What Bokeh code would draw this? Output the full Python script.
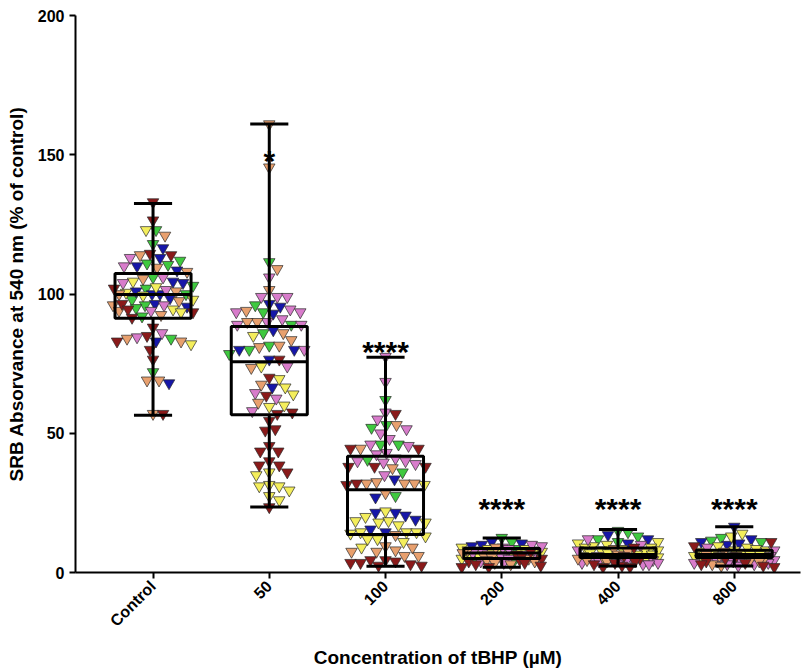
import math
from bokeh.plotting import figure
from bokeh.models import ColumnDataSource, FixedTicker
from bokeh.core.properties import value
from bokeh.embed import file_html
from bokeh.resources import INLINE

# ---------------- data ----------------
categories = ["Control", "50", "100", "200", "400", "800"]

box_min = [56.5, 23.5, 2.2, 1.9, 2.3, 2.3]
box_q1 = [91.3, 56.6, 13.6, 5.0, 5.4, 5.4]
box_med = [99.8, 75.7, 29.7, 7.0, 6.5, 6.5]
box_q3 = [107.4, 88.3, 41.7, 8.6, 8.8, 8.0]
box_max = [132.5, 161.0, 77.3, 12.4, 15.4, 16.4]

sig_text = ["", "*", "****", "****", "****", "****"]
sig_y = [0, 148.0, 79.5, 23.0, 23.0, 23.0]

green = [
    [123, 118, 112, 111, 110.5, 106, 103, 102, 100, 98, 96, 95, 92, 84, 72],
    [111.5, 96, 93.5, 89, 86, 80, 81.5, 78.5],
    [62, 53, 52, 46, 46, 40.5, 36, 27.5],
    [12.5, 11, 8.5, 5, 4.5, 6],
    [15, 14.5, 13, 12, 11],
    [12.5, 11.5, 11],
]
blue = [
    [116.5, 113, 110, 108.5, 104.5, 104, 101, 100, 100, 98.5, 96.5, 95.5, 83, 68],
    [96.5, 95.5, 93, 87, 80, 80, 76.5, 66.5],
    [33.5, 27, 21.5, 21.5, 20.5, 19, 15.5, 14.5],
    [11, 10.5, 10, 9.5],
    [13.5, 12, 10.5],
    [16.5, 12, 11, 10.5, 10],
]
yellow = [
    [123, 104.5, 102.5, 100.5, 99.5, 98, 94.5, 93.5, 82],
    [85, 74, 69.5, 66.5, 64, 60, 59.5, 36, 35, 31.5, 31, 31, 29.5, 27.5, 26],
    [31.5, 22, 20, 18.5, 18.5, 18, 18, 17, 14.5, 14.5, 14.5, 13, 14, 12, 12, 11, 9],
    [9, 8.5, 8.5, 8, 8, 7.5, 7.5, 7, 7, 6.5, 6.5, 6, 6, 5.5, 5],
    [11, 10.5, 10, 9.5, 9, 9, 8.5, 8, 8, 7.5, 7, 7, 6.5, 6.5, 6, 5.5, 5],
    [14, 13, 9.5, 9, 8.5, 8, 8, 7.5, 7, 7, 6.5, 6.5, 6, 6, 5.5, 5],
]
pink = [
    [113, 110, 106, 104, 101.5, 96, 94, 86, 84.5],
    [106, 99, 99, 99, 94.5, 93.5, 93.5, 91, 90, 89, 89, 80, 74, 64.5, 62.5, 58],
    [77.5, 68.5, 57.5, 55, 51.5, 50, 48, 46, 45.5, 43, 42.5, 41, 40, 40, 39.5, 39, 35],
    [10, 9.5, 9, 8.5, 7.5, 7, 6.5, 6, 5.5, 5, 4, 3.5],
    [12, 10, 8, 6, 5.5, 5, 5, 4.5, 4.5, 4, 4, 3.5, 3.5, 3, 3],
    [9, 8, 6, 5.5, 5, 4.5, 4.5, 4, 4, 3.5, 3.5, 3, 3, 2.5],
]
salmon = [
    [121, 114, 109.5, 108, 105.5, 101, 100, 97.5, 96, 94, 92.5, 84, 83, 69, 69, 57],
    [161, 145.5, 109, 101.5, 94, 90, 90, 86, 83.5, 81.5, 81, 73.5, 67.5, 61],
    [53, 44.5, 37.5, 32.5, 32, 32, 32, 28.5, 13.5, 9.5, 9, 8, 7.5, 7.5, 6, 6],
    [9, 8, 7, 6.5, 6, 5.5, 5, 4.5, 4, 3.5, 3],
    [8.5, 7.5, 6.5, 5.5, 5, 4.5, 4],
    [7.5, 6.5, 6, 5, 4.5, 4, 3, 2.5],
]
darkred = [
    [133, 126.5, 114.5, 114, 102, 96.5, 94.5, 93.5, 91.5, 88, 85, 83, 80, 76.5, 57],
    [76.5, 70, 63.5, 57.5, 57, 54.5, 51.5, 51, 45.5, 43.5, 43.5, 40, 38.5, 38.5, 36, 23.5],
    [57, 44.5, 44.5, 38, 38, 38, 32, 31.5, 3.5, 3.5, 4, 4.5, 4.5, 3, 2.5, 2.5],
    [7.5, 6.5, 6, 5, 4.5, 4, 3.5, 3, 2.5, 2, 2],
    [9, 6, 5, 4, 3.5, 3, 2.5, 2, 2],
    [11, 9.5, 6, 5, 4, 3.5, 3, 2.5, 2],
]

series = [
    (green, "#3fc93f"),
    (blue, "#1616a8"),
    (yellow, "#f4ee5c"),
    (pink, "#d87ccb"),
    (salmon, "#e8a06e"),
    (darkred, "#8a1a1a"),
]

# ---------------- layout ----------------
W, H = 803, 670
LEFT, RIGHT, TOP, BOTTOM = 75, 3, 15, 97
X0, X1 = -0.667, 5.57
Y0, Y1 = 0, 200
ppx = (W - LEFT - RIGHT) / (X1 - X0)
ppy = (H - TOP - BOTTOM) / (Y1 - Y0)


def swarm(vals, d=10.0, maxoff=40.0):
    order = sorted(range(len(vals)), key=lambda i: -vals[i])
    placed = []
    offs = [0.0] * len(vals)
    cands = [0.0]
    k = 1
    while k <= maxoff:
        cands += [float(k), float(-k)]
        k += 1
    for i in order:
        y = vals[i] * ppy
        chosen = None
        best_c, best_s = 0.0, -1.0
        for c in cands:
            md = min((math.hypot(c - px, y - py) for px, py in placed), default=1e9)
            if md >= d:
                chosen = c
                break
            if md > best_s:
                best_s, best_c = md, c
        if chosen is None:
            chosen = best_c
        placed.append((chosen, y))
        offs[i] = chosen / ppx
    return offs


xs, ys, cs = [], [], []
for g in range(len(categories)):
    gv, gc = [], []
    for arr, col in series:
        gv += arr[g]
        gc += [col] * len(arr[g])
    offs = swarm(gv)
    for v, c, o in zip(gv, gc, offs):
        xs.append(g + o)
        ys.append(v)
        cs.append(c)

p = figure(width=W, height=H, x_range=(X0, X1), y_range=(Y0, Y1),
           output_backend="svg", toolbar_location=None,
           min_border_left=LEFT, min_border_right=RIGHT,
           min_border_top=TOP, min_border_bottom=BOTTOM)
p.outline_line_color = None
p.xgrid.visible = False
p.ygrid.visible = False
p.background_fill_color = "white"
p.border_fill_color = "white"

src = ColumnDataSource(dict(x=xs, y=ys, c=cs))
p.scatter("x", "y", source=src, marker="inverted_triangle", size=11.5,
          fill_color="c", line_color="#2a2a2a", line_width=0.7)

bw = 0.327
cw = 0.164
idx = list(range(len(categories)))
# whiskers
p.segment(x0=idx, x1=idx, y0=box_min, y1=box_q1, line_color="black", line_width=3)
p.segment(x0=idx, x1=idx, y0=box_q3, y1=box_max, line_color="black", line_width=3)
p.segment(x0=[i - cw for i in idx], x1=[i + cw for i in idx], y0=box_min, y1=box_min,
          line_color="black", line_width=3)
p.segment(x0=[i - cw for i in idx], x1=[i + cw for i in idx], y0=box_max, y1=box_max,
          line_color="black", line_width=3)
# boxes
p.quad(left=[i - bw for i in idx], right=[i + bw for i in idx], bottom=box_q1, top=box_q3,
       fill_color=None, line_color="black", line_width=3)
p.segment(x0=[i - bw for i in idx], x1=[i + bw for i in idx], y0=box_med, y1=box_med,
          line_color="black", line_width=3)

# significance stars
sx = [i for i in idx if sig_text[i]]
p.text(x=sx, y=[sig_y[i] for i in sx], text=[sig_text[i] for i in sx],
       text_font=value("Liberation Sans"), text_font_style="bold",
       text_font_size="30px", text_align="center", text_baseline="alphabetic",
       text_color="black")

# axes
p.xaxis.ticker = FixedTicker(ticks=idx)
p.xaxis.major_label_overrides = {i: c for i, c in enumerate(categories)}
p.xaxis.major_label_orientation = math.pi / 4
p.yaxis.ticker = FixedTicker(ticks=[0, 50, 100, 150, 200])
for ax in (p.xaxis[0], p.yaxis[0]):
    ax.axis_line_width = 2
    ax.axis_line_color = "black"
    ax.major_tick_line_width = 2
    ax.major_tick_line_color = "black"
    ax.major_tick_out = 6
    ax.major_tick_in = 0
    ax.minor_tick_line_color = None
    ax.major_label_text_font = "Liberation Sans"
    ax.major_label_text_font_style = "bold"
    ax.major_label_text_font_size = "16px"
    ax.major_label_text_color = "black"
    ax.axis_label_text_font = "Liberation Sans"
    ax.axis_label_text_font_style = "bold"
    ax.axis_label_text_font_size = "19px"
    ax.axis_label_text_color = "black"
p.xaxis.axis_label = "Concentration of tBHP (µM)"
p.yaxis.axis_label = "SRB Absorvance at 540 nm (% of control)"
p.xaxis.axis_label_standoff = 8
p.yaxis.axis_label_standoff = 8

open("out.html", "w").write(file_html(p, INLINE))
